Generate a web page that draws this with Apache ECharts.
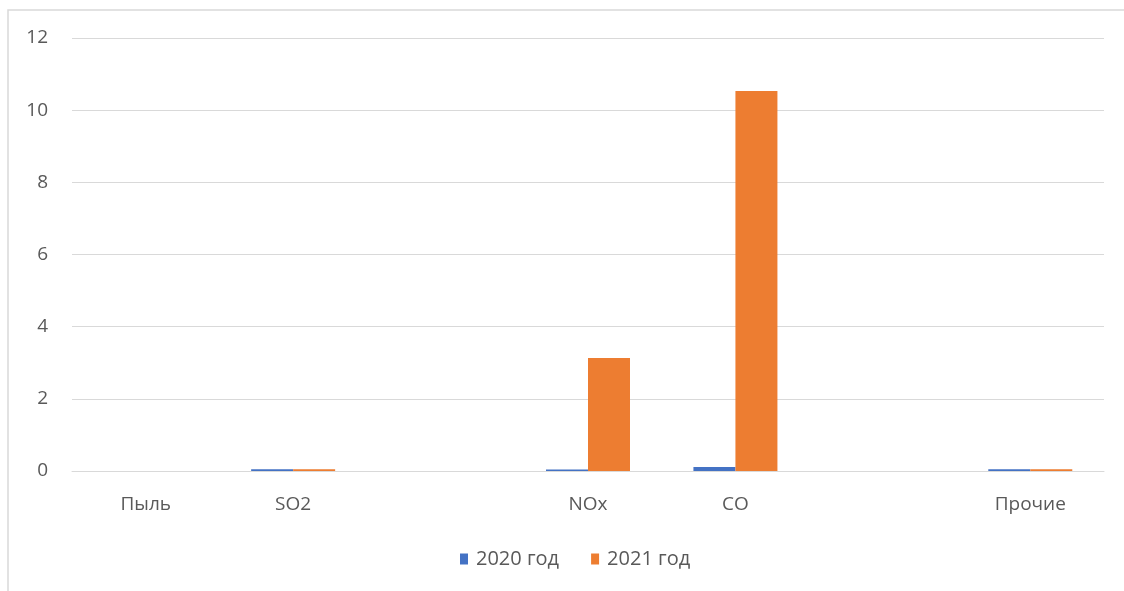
<!DOCTYPE html>
<html><head><meta charset="utf-8">
<script src="https://cdn.jsdelivr.net/npm/echarts@6/dist/echarts.min.js"></script>
<style>html,body{margin:0;padding:0;background:#fff}#c{width:1124px;height:591px}</style>
</head><body><div id="c"></div>
<script>
const categories = ['Пыль', 'SO2', '', 'NOx', 'CO', '', 'Прочие'];
const series2020 = [0, 0.05, null, 0.04, 0.11, null, 0.05];
const series2021 = [0, 0.05, null, 3.13, 10.53, null, 0.05];
const seriesNames = ['2020 год', '2021 год'];
const yTicks = { min: 0, max: 12, interval: 2 };

const chart = echarts.init(document.getElementById('c'), null, { renderer: 'canvas' });
const font = "'Open Sans', 'Noto Sans', sans-serif";
chart.setOption({
  animation: false,
  backgroundColor: '#fff',
  graphic: [{
    type: 'polyline',
    shape: { points: [[8, 591], [8, 10], [1124, 10]] },
    style: { stroke: '#d9d9d9', lineWidth: 1.5, fill: null }
  }],
  grid: { left: 72, right: 20, top: 38, bottom: 120 },
  legend: {
    data: seriesNames,
    left: 455, top: 544,
    itemWidth: 8, itemHeight: 11, itemGap: 32,
    icon: 'rect',
    textStyle: { color: '#595959', fontSize: 20, fontFamily: font, padding: [0, 0, 0, 3] }
  },
  xAxis: {
    type: 'category',
    data: categories,
    axisLine: { show: true, lineStyle: { color: '#d9d9d9', width: 1 } },
    axisTick: { show: false },
    axisLabel: { color: '#595959', fontSize: 19, fontFamily: font, margin: 24 }
  },
  yAxis: {
    type: 'value',
    min: yTicks.min, max: yTicks.max, interval: yTicks.interval,
    axisLine: { show: false }, axisTick: { show: false },
    splitLine: { lineStyle: { color: '#d9d9d9', width: 1 } },
    axisLabel: { color: '#595959', fontSize: 19, fontFamily: font, margin: 24 }
  },
  series: [
    { name: seriesNames[0], type: 'bar', data: series2020, barWidth: 42, barGap: '0%', itemStyle: { color: '#4472C4' } },
    { name: seriesNames[1], type: 'bar', data: series2021, barWidth: 42, barGap: '0%', itemStyle: { color: '#ED7D31' } }
  ]
});
</script>
</body></html>
